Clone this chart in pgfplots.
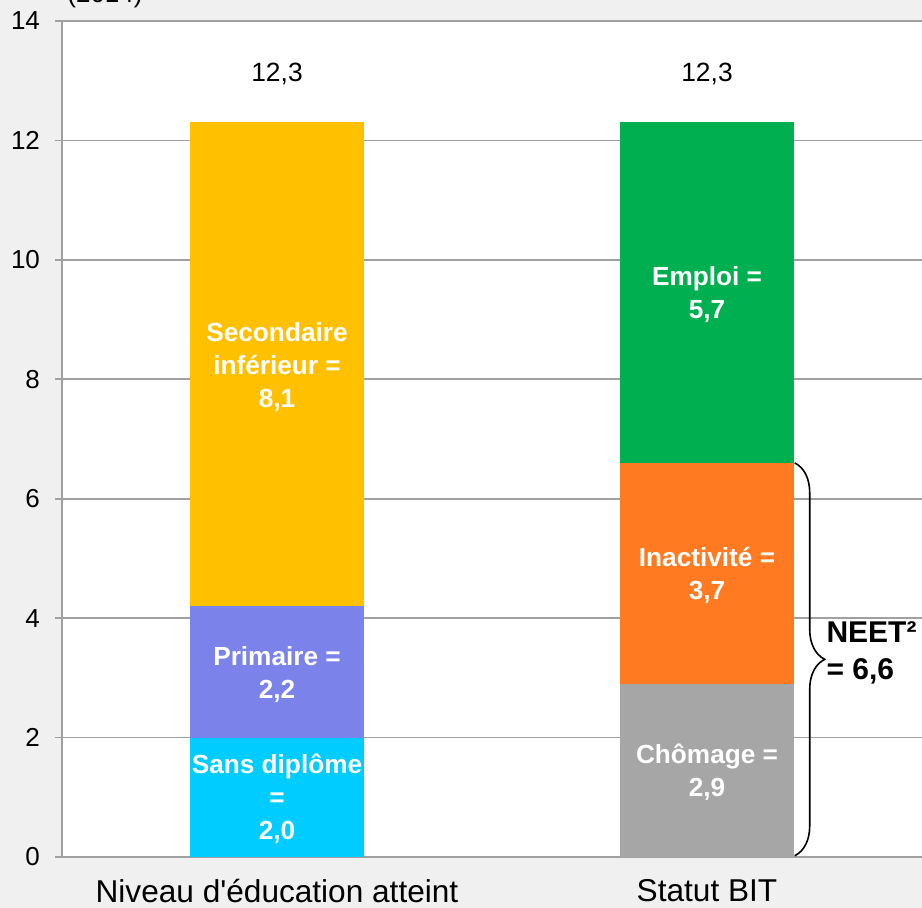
\documentclass[border=0pt]{standalone}
\usepackage{pgfplots}
\pgfplotsset{compat=1.18}
\usepackage{fontspec}
\setmainfont{Liberation Sans}
\usetikzlibrary{decorations.pathreplacing}
\definecolor{bgc}{HTML}{F0F0F0}
\definecolor{gridc}{HTML}{A0A0A0}
\definecolor{cSans}{HTML}{00CCFF}
\definecolor{cPrim}{HTML}{7B83EB}
\definecolor{cSec}{HTML}{FFC000}
\definecolor{cCho}{HTML}{A6A6A6}
\definecolor{cIna}{HTML}{FF7A20}
\definecolor{cEmp}{HTML}{00B050}
\tikzset{barlab/.style={text=white, font=\bfseries\fontsize{13.1}{16.5}\selectfont, align=center}}
\begin{document}
\begin{tikzpicture}
\path[use as bounding box, fill=bgc] (-31pt,-25.5pt) rectangle (430pt,428.5pt);
\begin{axis}[
  at={(0pt,0pt)}, anchor=south west,
  scale only axis,
  width=430pt, height=418pt,
  xmin=-0.5, xmax=1.5, ymin=0, ymax=14,
  ybar stacked, bar width=0.404,
  axis x line=bottom, axis y line=left,
  axis line style={draw=gridc, line width=0.8pt, -},
  axis background/.style={fill=white},
  ytick={0,2,...,14},
  ymajorgrids, grid style={draw=gridc, line width=0.8pt},
  tick align=outside,
  major tick length=3.5pt,
  tick style={draw=gridc, line width=0.8pt},
  xtick={0,1}, xticklabels={Niveau d\textquotesingle éducation atteint, Statut BIT},
  x tick style={draw=none},
  extra x ticks={-0.5,0.5,1.5}, extra x tick labels={},
  extra x tick style={major tick length=5pt},
  xticklabel style={font=\fontsize{15.8}{18}\selectfont, yshift=-4pt},
  yticklabel style={font=\fontsize{13}{15}\selectfont, xshift=-4pt},
  /pgf/number format/assume math mode=true,
  clip=false,
  after end axis/.code={
    \node[barlab] at (axis cs:0,0.97) {Sans diplôme\\=\\2,0};
    \node[barlab] at (axis cs:0,3.06) {Primaire =\\2,2};
    \node[barlab] at (axis cs:0,8.2) {Secondaire\\inférieur =\\8,1};
    \node[barlab] at (axis cs:1,1.42) {Chômage =\\2,9};
    \node[barlab] at (axis cs:1,4.72) {Inactivité =\\3,7};
    \node[barlab] at (axis cs:1,9.42) {Emploi =\\5,7};
  },
]
\addplot[fill=cSans, draw=none] coordinates {(0,2.0) (1,0)};
\addplot[fill=cPrim, draw=none] coordinates {(0,2.2) (1,0)};
\addplot[fill=cSec, draw=none] coordinates {(0,8.1) (1,0)};
\addplot[fill=cCho, draw=none] coordinates {(0,0) (1,2.9)};
\addplot[fill=cIna, draw=none] coordinates {(0,0) (1,3.7)};
\addplot[fill=cEmp, draw=none] coordinates {(0,0) (1,5.7)};
\node[font=\fontsize{13.2}{15}\selectfont] at (axis cs:0,13.12) {12,3};
\node[font=\fontsize{13.2}{15}\selectfont] at (axis cs:1,13.12) {12,3};
\draw[decorate, decoration={brace, amplitude=15pt}, line width=0.8pt] (axis cs:1.204,6.6) -- (axis cs:1.204,0.02);
\node[anchor=west, align=left, font=\bfseries\fontsize{15}{18.5}\selectfont, inner sep=0pt] at (axis cs:1.277,3.42) {NEET²\\= 6,6};
\node[font=\fontsize{13}{15}\selectfont] at (axis cs:-0.4,14.43) {(2014)};
\end{axis}
\end{tikzpicture}
\end{document}
